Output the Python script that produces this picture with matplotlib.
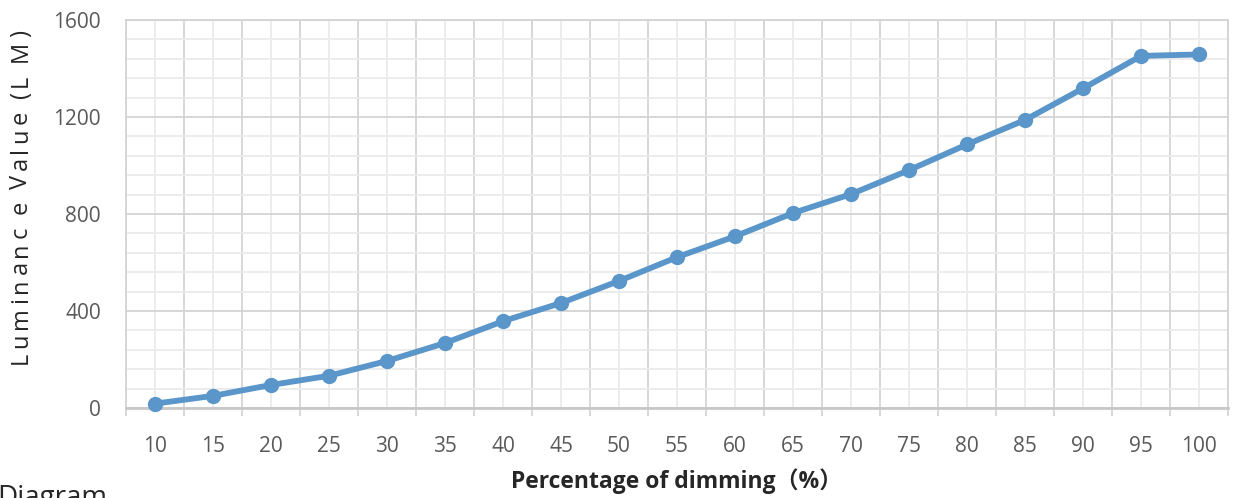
import matplotlib
matplotlib.use('Agg')
import matplotlib.pyplot as plt
from matplotlib.ticker import MultipleLocator

# dimming percentage categories and measured luminance
dimming = [10, 15, 20, 25, 30, 35, 40, 45, 50, 55,
           60, 65, 70, 75, 80, 85, 90, 95, 100]
luminance = [18, 50, 95, 133, 194, 268, 358, 433, 524, 622,
             708, 804, 882, 981, 1087, 1188, 1318, 1452, 1458]

plt.rcParams['font.family'] = ['Open Sans', 'Noto Sans CJK SC', 'DejaVu Sans']

blue = '#5a96c9'
grid_major = '#d4d4d4'
grid_minor = '#ebebeb'
tick_col = '#595959'

fig = plt.figure(figsize=(12.33, 4.98), dpi=100)
ax = fig.add_axes([0.1022, 0.1807, 0.8938, 0.7791])

pos = list(range(len(dimming)))
ax.plot(pos, luminance, color=blue, linewidth=4.2, marker='o',
        markersize=10, zorder=3, clip_on=False)

ax.set_xlim(-0.5, len(dimming) - 0.5)
ax.set_ylim(0, 1600)

# category labels at centres, tick marks at category boundaries
ax.set_xticks(pos)
ax.set_xticklabels([str(d) for d in dimming])
ax.set_xticks([p - 0.5 for p in pos] + [len(pos) - 0.5], minor=True)
ax.yaxis.set_major_locator(MultipleLocator(400))
ax.yaxis.set_minor_locator(MultipleLocator(80))

ax.grid(True, which='major', axis='x', color=grid_minor, linewidth=1.3, zorder=0)
ax.grid(True, which='minor', axis='x', color=grid_major, linewidth=1.3, zorder=0)
ax.grid(True, which='major', axis='y', color=grid_major, linewidth=1.3, zorder=0)
ax.grid(True, which='minor', axis='y', color=grid_minor, linewidth=1.3, zorder=0)
ax.set_axisbelow(True)

ax.tick_params(axis='x', which='major', length=0, pad=20, labelsize=15, labelcolor=tick_col)
ax.tick_params(axis='x', which='minor', length=6, width=1.3, color=grid_major, direction='out')
ax.tick_params(axis='y', which='both', length=0, pad=18, labelsize=15, labelcolor=tick_col)

for side in ['top', 'right', 'left']:
    ax.spines[side].set_color(grid_major)
    ax.spines[side].set_linewidth(1.3)
ax.spines['bottom'].set_color('#c8c8c8')
ax.spines['bottom'].set_linewidth(2)

ax.set_xlabel('Percentage of dimming（%）', fontsize=16.5, fontweight='bold',
              color='#262626', labelpad=8)

# y label with letter spacing, drawn character by character
ylabel = 'Luminanc e Value (L M)'
label_size = 17
fig.canvas.draw()
renderer = fig.canvas.get_renderer()
widths = []
for ch in ylabel:
    if ch == ' ':
        widths.append(4)
        continue
    probe = fig.text(0, 0, ch, fontsize=label_size)
    widths.append(probe.get_window_extent(renderer).width)
    probe.remove()
y_bottom, y_top = 498 - 364, 498 - 30
spacing = (y_top - y_bottom - sum(widths)) / (len(ylabel) - 1)
y_pix = y_bottom
for ch, w in zip(ylabel, widths):
    fig.text(21 / 1233, y_pix / 498, ch, rotation=90, fontsize=label_size,
             color='#262626', ha='center', va='bottom')
    y_pix += w + spacing

fig.text(-0.002, 1 - 484 / 498, 'Diagram', fontsize=20, color='#262626',
         ha='left', va='top')

fig.savefig('out.png', dpi=100)
